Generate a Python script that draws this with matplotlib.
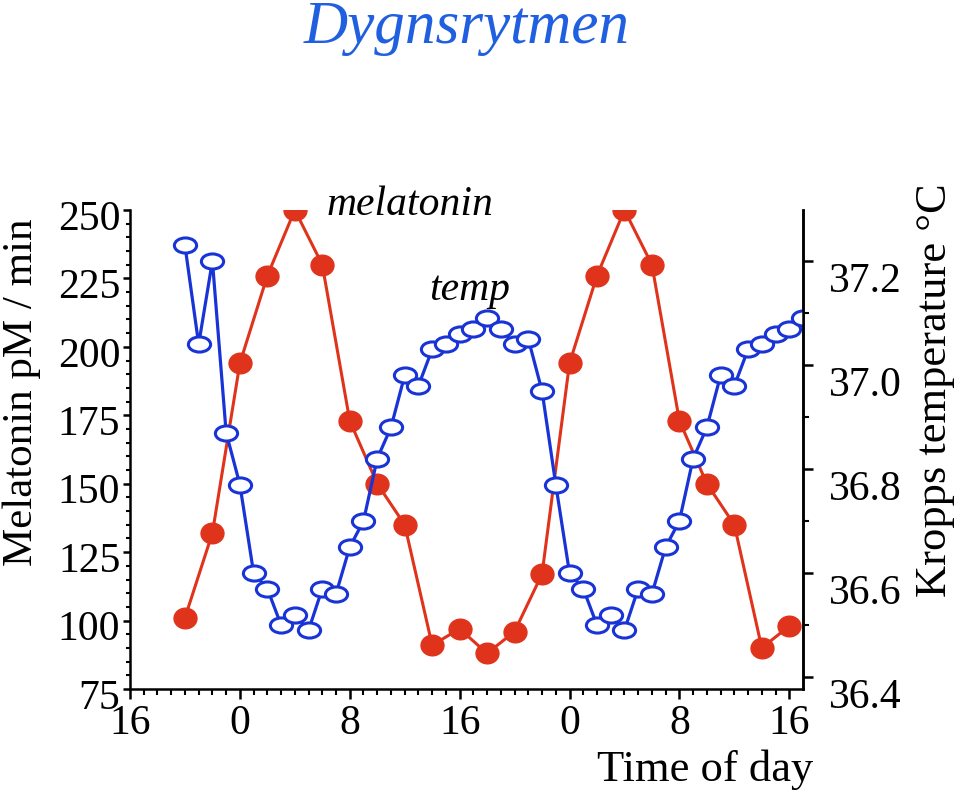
import matplotlib
matplotlib.use('Agg')
import matplotlib.pyplot as plt
import matplotlib.transforms as mtransforms
from matplotlib.path import Path

# Данные: часы от полуночи первых суток
hours_mel = list(range(-4, 41, 2))
melatonin = [101, 132, 194, 226, 250, 230, 173, 150, 135, 91, 97, 88,
             96, 117, 194, 226, 250, 230, 173, 150, 135, 90, 98]

hours_temp = list(range(-4, 42))
temp = [37.23, 37.04, 37.20, 36.87, 36.77, 36.60, 36.57, 36.50, 36.52, 36.49,
        36.57, 36.56, 36.65, 36.70, 36.82, 36.88, 36.98, 36.96, 37.03, 37.04,
        37.06, 37.07, 37.09, 37.07, 37.04, 37.05, 36.95, 36.77,
        36.60, 36.57, 36.50, 36.52, 36.49, 36.57, 36.56, 36.65, 36.70, 36.82,
        36.88, 36.98, 36.96, 37.03, 37.04, 37.06, 37.07, 37.09]

x_ticks = [-8, 0, 8, 16, 24, 32, 40]
x_labels = ['16', '0', '8', '16', '0', '8', '16']
mel_ticks = [75, 100, 125, 150, 175, 200, 225, 250]
temp_ticks = [36.4, 36.6, 36.8, 37.0, 37.2]

RED = '#e0331b'
BLUE = '#1833d6'
SERIF = 'Liberation Serif'

plt.rcParams['font.family'] = SERIF

fig = plt.figure(figsize=(9.6, 7.97), dpi=100)
ax = fig.add_axes([130 / 960, 1 - 689 / 797, 673 / 960, 479 / 797])
ax2 = ax.twinx()

# Маркеры-овалы
oval_red = Path.unit_circle().transformed(mtransforms.Affine2D().scale(1.0, 0.9))
oval_blue = Path.unit_circle().transformed(mtransforms.Affine2D().scale(1.0, 0.68))

ax.plot(hours_mel, melatonin, color=RED, lw=2.2, marker=oval_red,
        markersize=16.5, markerfacecolor=RED, markeredgecolor=RED)
ax2.plot(hours_temp, temp, color=BLUE, lw=2.3, marker=oval_blue,
         markersize=16, markerfacecolor='white', markeredgecolor=BLUE,
         markeredgewidth=2.2)

# Оси
ax.set_xlim(-8, 41)
ax.set_ylim(75, 250)
ax2.set_ylim(36.377, 37.298)

ax.set_xticks(x_ticks)
ax.set_xticklabels(x_labels)
ax.set_xticks(range(-8, 41), minor=True)
ax.set_yticks(mel_ticks)
ax.set_yticks(range(75, 251, 5), minor=True)
ax2.set_yticks(temp_ticks)
ax2.set_yticklabels(['%.1f' % t for t in temp_ticks])
ax2.set_yticks([36.5, 36.7, 36.9, 37.1], minor=True)

for a in (ax, ax2):
    a.spines['top'].set_visible(False)
    for s in a.spines.values():
        s.set_linewidth(1.8)
ax2.spines['left'].set_visible(False)
ax2.spines['bottom'].set_visible(False)

ax.tick_params(axis='x', which='major', length=7, width=1.8, labelsize=30, pad=4)
ax.tick_params(axis='x', which='minor', length=4, width=1.5)
ax.tick_params(axis='y', which='major', length=5, width=1.8, labelsize=30, pad=2)
ax.tick_params(axis='y', which='minor', length=3, width=1.5)
ax2.tick_params(axis='y', which='major', length=7, width=1.8, labelsize=30, pad=12)
ax2.tick_params(axis='y', which='minor', length=4, width=1.5)

# подписи справа стоят ниже рисок, как в оригинале
off_r = mtransforms.ScaledTranslation(0, -16 / 100, fig.dpi_scale_trans)
for lab in ax2.get_yticklabels():
    lab.set_transform(lab.get_transform() + off_r)
off_l = mtransforms.ScaledTranslation(0, -5 / 100, fig.dpi_scale_trans)
for lab in ax.get_yticklabels():
    lab.set_transform(lab.get_transform() + off_l)

# Тексты
fig.text(467 / 960, 1 - 28 / 797, 'Dygnsrytmen', color='#2060e0', fontsize=44,
         style='italic', ha='center', va='center')
fig.text(410 / 960, 1 - 205 / 797, 'melatonin', fontsize=30, style='italic',
         ha='center', va='center')
fig.text(470 / 960, 1 - 290 / 797, 'temp', fontsize=30, style='italic',
         ha='center', va='center')
fig.text(22 / 960, 1 - 392 / 797, 'Melatonin pM / min', fontsize=31,
         rotation=90, ha='center', va='center')
fig.text(935 / 960, 1 - 390 / 797, 'Kropps temperature °C', fontsize=32,
         rotation=90, ha='center', va='center')
fig.text(705 / 960, 1 - 770 / 797, 'Time of day', fontsize=32,
         ha='center', va='center')

fig.savefig('out.png', dpi=100)
